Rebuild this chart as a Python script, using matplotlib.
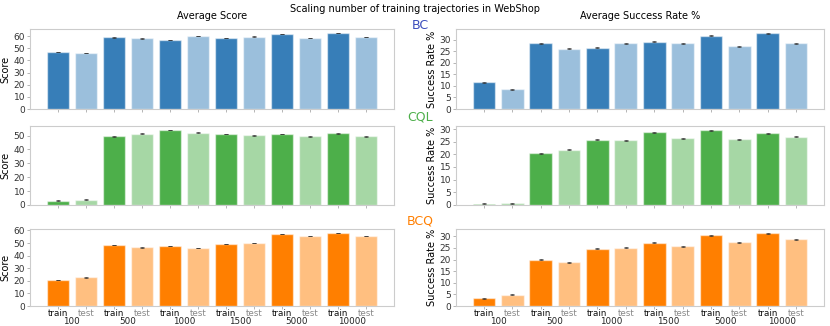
import matplotlib
matplotlib.use("Agg")
import matplotlib.pyplot as plt
from matplotlib.ticker import MultipleLocator

sizes = ["100", "500", "1000", "1500", "5000", "10000"]
splits = ["train", "test"]

# values per size: train, test
bc_score = [47.1, 46.3, 58.9, 58.1, 56.7, 60.0, 58.6, 59.5, 61.9, 58.6, 62.5, 59.2]
bc_succ = [11.5, 8.5, 28.3, 26.0, 26.5, 28.3, 29.1, 28.3, 31.6, 27.0, 32.7, 28.3]
cql_score = [3.1, 3.8, 49.5, 51.4, 54.0, 52.1, 51.2, 50.2, 51.2, 49.5, 51.7, 49.5]
cql_succ = [0.4, 0.7, 20.5, 21.8, 25.7, 25.6, 28.7, 26.4, 29.5, 26.0, 28.4, 26.9]
bcq_score = [20.5, 22.8, 48.4, 46.6, 47.8, 46.1, 49.4, 50.1, 57.0, 55.4, 58.0, 55.7]
bcq_succ = [3.4, 4.9, 20.0, 18.8, 24.6, 25.1, 27.2, 25.7, 30.4, 27.5, 31.4, 28.7]
err = [0.2] * 12

methods = ["BC", "CQL", "BCQ"]
base_colors = ["#377eb8", "#4daf4a", "#ff7f00"]
label_colors = ["#3a4cbc", "#4daf4a", "#ff7f00"]
scores = [bc_score, cql_score, bcq_score]
succs = [bc_succ, cql_succ, bcq_succ]

plt.rcParams["font.family"] = "DejaVu Sans"
plt.rcParams["font.size"] = 6.5

fig = plt.figure(figsize=(8.3, 3.26), dpi=100)
fig.text(0.5, 0.988, "Scaling number of training trajectories in WebShop",
         ha="center", va="top", fontsize=7)

lefts = [0.0361, 0.5494]
widths = [0.4386, 0.4434]
bottoms = [0.6656, 0.3712, 0.0613]
heights = [0.2454, 0.2423, 0.2362]
label_y = [0.922, 0.64, 0.322]

x = list(range(12))


def light(c):
    r, g, b = matplotlib.colors.to_rgb(c)
    return (0.5 + r / 2, 0.5 + g / 2, 0.5 + b / 2)


for i, m in enumerate(methods):
    cols = [base_colors[i], light(base_colors[i])] * 6
    for j, (vals, ylab, step) in enumerate([(scores[i], "Score", 10),
                                             (succs[i], "Success Rate %", 5)]):
        ax = fig.add_axes([lefts[j], bottoms[i], widths[j], heights[i]])
        ax.bar(x, vals, width=0.8, color=cols, edgecolor=(1, 1, 1, 0.5),
               linewidth=1, yerr=err, capsize=1.2,
               error_kw=dict(elinewidth=0.5, ecolor="#333333", capthick=0.5))
        ax.yaxis.set_major_locator(MultipleLocator(step))
        ax.set_ylabel(ylab, fontsize=7, labelpad=2)
        for s in ax.spines.values():
            s.set_color("#cccccc")
            s.set_linewidth(0.8)
        ax.tick_params(axis="both", length=2, width=0.5, color="#999999",
                       labelcolor="#333333", pad=1.5)
        ax.set_xticks(x)
        if i == 0:
            ax.set_title("Average Score" if j == 0 else "Average Success Rate %",
                         fontsize=7, pad=7)
        if i == 2:
            ax.set_xticklabels(splits * 6, fontsize=6.3)
            ax.tick_params(axis="x", which="major", pad=0.3)
            for k, t in enumerate(ax.get_xticklabels()):
                t.set_color("#111111" if k % 2 == 0 else "#888888")
            ax.set_xticks([2 * k + 0.5 for k in range(6)], minor=True)
            ax.set_xticklabels(sizes, minor=True, fontsize=6.3)
            ax.tick_params(axis="x", which="minor", length=0, pad=7.6,
                           labelcolor="#222222")
        else:
            ax.set_xticklabels([])
    fig.text(0.506, label_y[i], m, color=label_colors[i], fontsize=9,
             ha="center", va="center")

fig.savefig("out.png", dpi=100)
